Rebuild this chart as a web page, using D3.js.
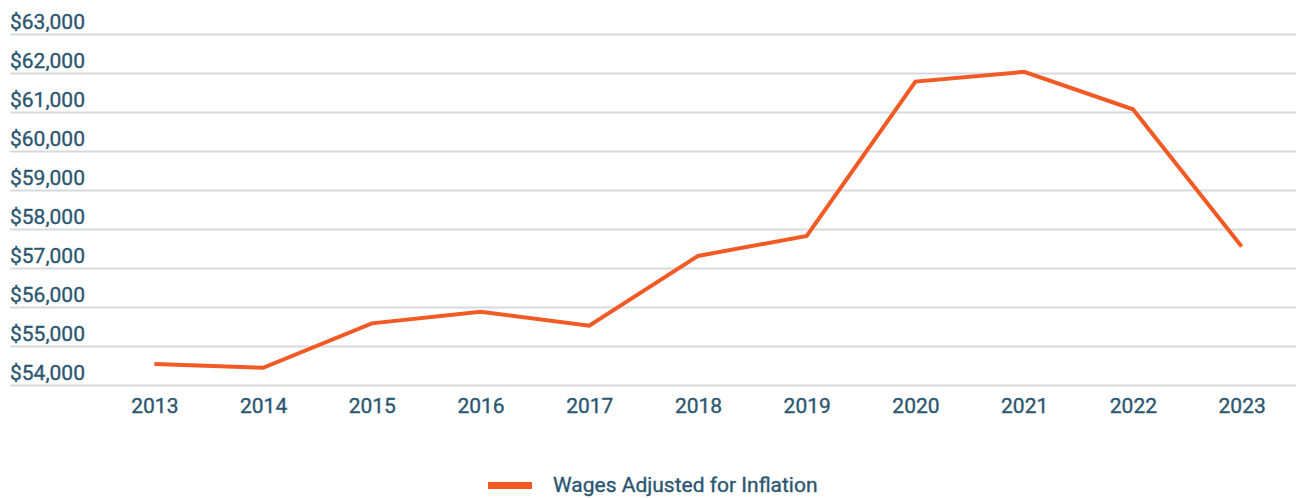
<!DOCTYPE html>
<html>
<head>
<meta charset="utf-8">
<script src="https://cdn.jsdelivr.net/npm/d3@7"></script>
<style>
  body { margin: 0; background: #fff; }
  text { font-family: Roboto, sans-serif; font-weight: 400; fill: #2b5670; stroke: #2b5670; stroke-width: 0.35px; }
</style>
</head>
<body>
<div id="chart"></div>
<script>
// Chart values
var years = ['2013', '2014', '2015', '2016', '2017', '2018', '2019', '2020', '2021', '2022', '2023'];
var wages = [54540, 54440, 55580, 55880, 55520, 57310, 57820, 61780, 62030, 61070, 57550];
var yTicks = [54000, 55000, 56000, 57000, 58000, 59000, 60000, 61000, 62000, 63000];
var seriesName = 'Wages Adjusted for Inflation';

var width = 1298;
var height = 498;
var lineColor = '#f15a24';
var gridColor = '#d5dae0';
var fontSize = '21px';

var svg = d3.select('#chart').append('svg')
    .attr('width', width)
    .attr('height', height);

var xScale = d3.scalePoint()
    .domain(years)
    .range([100, 1296])
    .padding(0.5);

var yScale = d3.scaleLinear()
    .domain([54000, 63000])
    .range([385, 34]);

var fmt = d3.format('$,');

// Grid lines with labels sitting on top of them
var yAxis = svg.append('g')
    .attr('transform', 'translate(10,0)')
    .call(d3.axisRight(yScale)
        .tickValues(yTicks)
        .tickSize(1286)
        .tickFormat(fmt));

yAxis.select('.domain').remove();
yAxis.selectAll('.tick line')
    .attr('stroke', gridColor)
    .attr('stroke-width', 2);
yAxis.selectAll('.tick text')
    .attr('x', 0)
    .attr('dy', -6)
    .attr('text-anchor', 'start')
    .style('font-size', fontSize);

// x axis labels
var xAxis = svg.append('g')
    .attr('transform', 'translate(0,385)')
    .call(d3.axisBottom(xScale).tickSize(0).tickPadding(28));

xAxis.select('.domain').remove();
xAxis.selectAll('.tick text')
    .attr('dy', 0)
    .style('font-size', fontSize);

// the series
var line = d3.line()
    .x(function(d, i) { return xScale(years[i]); })
    .y(function(d) { return yScale(d); });

svg.append('path')
    .datum(wages)
    .attr('fill', 'none')
    .attr('stroke', lineColor)
    .attr('stroke-width', 4)
    .attr('d', line);

// legend
var legend = svg.append('g');
legend.append('line')
    .attr('x1', 488).attr('x2', 532)
    .attr('y1', 485.5).attr('y2', 485.5)
    .attr('stroke', lineColor)
    .attr('stroke-width', 7);
legend.append('text')
    .attr('x', 553)
    .attr('y', 492)
    .style('font-size', fontSize)
    .text(seriesName);
</script>
</body>
</html>
